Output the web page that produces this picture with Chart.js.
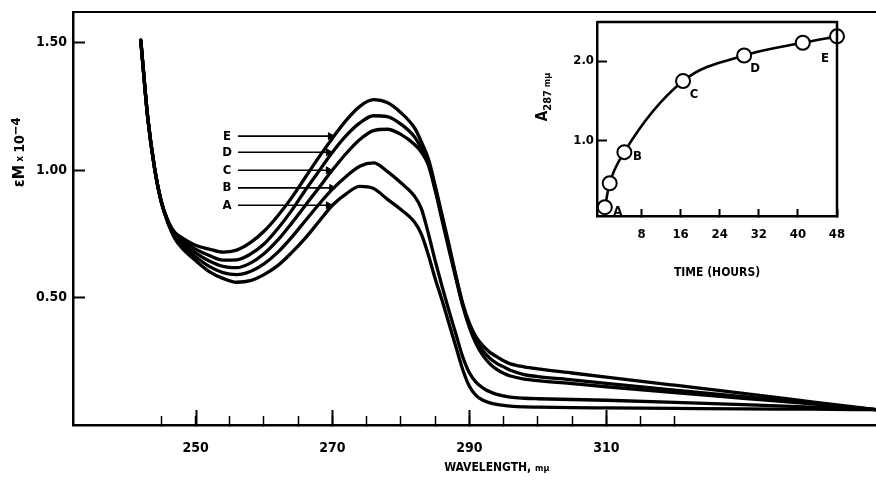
<!DOCTYPE html>
<html>
<head>
<meta charset="utf-8">
<script src="https://cdn.jsdelivr.net/npm/chart.js@4.4.1/dist/chart.umd.min.js"></script>
<style>
  html, body { margin: 0; padding: 0; background: #fff; }
  #wrap { position: relative; width: 876px; height: 480px; }
  #main { position: absolute; left: 0; top: 0; }
  #inset { position: absolute; left: 520px; top: 0; }
</style>
</head>
<body>
<div id="wrap">
  <canvas id="main" width="876" height="480"></canvas>
  <canvas id="inset" width="356" height="280"></canvas>
</div>
<script>
// spectra (wavelength in m\u03bc, eM x 10^-4)
const wavelengths = [242, 243, 244, 245, 246, 247, 248, 250, 252, 254, 256, 258, 260, 262, 264, 266, 268, 270, 272, 274, 276, 278, 280, 282, 283, 284, 285, 286, 287, 288, 289, 290, 291, 292, 293, 294, 295, 296, 298, 300, 305, 310, 320, 330, 340, 349.4];
const curveA = [1.51, 1.21, 1.01, 0.875, 0.79, 0.73, 0.695, 0.645, 0.602, 0.575, 0.56, 0.566, 0.59, 0.625, 0.675, 0.732, 0.797, 0.862, 0.907, 0.936, 0.928, 0.886, 0.845, 0.795, 0.748, 0.668, 0.575, 0.49, 0.40, 0.31, 0.22, 0.152, 0.115, 0.097, 0.087, 0.081, 0.077, 0.074, 0.071, 0.07, 0.068, 0.067, 0.065, 0.063, 0.062, 0.06];
const curveB = [1.51, 1.21, 1.01, 0.875, 0.792, 0.736, 0.705, 0.66, 0.622, 0.598, 0.59, 0.602, 0.632, 0.677, 0.735, 0.8, 0.865, 0.925, 0.975, 1.015, 1.028, 0.995, 0.95, 0.897, 0.848, 0.752, 0.645, 0.545, 0.45, 0.36, 0.27, 0.205, 0.167, 0.145, 0.13, 0.12, 0.114, 0.109, 0.105, 0.103, 0.1, 0.097, 0.089, 0.08, 0.07, 0.06];
const curveC = [1.51, 1.21, 1.01, 0.875, 0.795, 0.742, 0.715, 0.675, 0.643, 0.622, 0.617, 0.635, 0.672, 0.725, 0.79, 0.86, 0.93, 1.0, 1.065, 1.12, 1.155, 1.16, 1.14, 1.1, 1.07, 1.02, 0.92, 0.805, 0.69, 0.578, 0.47, 0.383, 0.318, 0.272, 0.24, 0.218, 0.203, 0.192, 0.18, 0.174, 0.162, 0.15, 0.127, 0.105, 0.083, 0.06];
const curveD = [1.51, 1.21, 1.01, 0.875, 0.798, 0.748, 0.725, 0.69, 0.665, 0.647, 0.648, 0.67, 0.71, 0.77, 0.84, 0.92, 0.995, 1.07, 1.135, 1.185, 1.213, 1.21, 1.18, 1.13, 1.085, 1.03, 0.93, 0.815, 0.70, 0.585, 0.475, 0.39, 0.33, 0.29, 0.262, 0.242, 0.228, 0.215, 0.198, 0.19, 0.177, 0.163, 0.137, 0.111, 0.085, 0.06];
const curveE = [1.51, 1.21, 1.01, 0.875, 0.80, 0.755, 0.735, 0.705, 0.69, 0.678, 0.686, 0.715, 0.76, 0.82, 0.89, 0.97, 1.05, 1.125, 1.195, 1.25, 1.276, 1.265, 1.225, 1.165, 1.11, 1.045, 0.94, 0.825, 0.71, 0.59, 0.48, 0.40, 0.345, 0.31, 0.285, 0.268, 0.252, 0.24, 0.228, 0.22, 0.204, 0.188, 0.156, 0.124, 0.091, 0.06];

// curve labels with their arrows
const curveLetters = ['A', 'B', 'C', 'D', 'E'];
const arrowLevels = [0.862, 0.93, 0.999, 1.07, 1.133];
const arrowStart = 256.2;
const arrowEnds = [269.4, 269.9, 269.4, 269.4, 269.7];
const letterX = 254.6;

const xTickValues = [245, 250, 255, 260, 265, 270, 275, 280, 285, 290, 295, 300, 305, 310, 315, 320];
const xLabelValues = [250, 270, 290, 310];
const yTickValues = [0.5, 1.0, 1.5];

// inset: absorbance at 287 m\u03bc vs time
const hours = [0.5, 1.5, 4.5, 16.5, 29, 41, 48];
const a287 = [0.17, 0.47, 0.86, 1.75, 2.07, 2.23, 2.31];
const hourLabels = ['A', '', 'B', 'C', 'D', '', 'E'];
const insetXTicks = [8, 16, 24, 32, 40, 48];
const insetYTicks = [1.0, 2.0];

const FONT = "'Liberation Sans Narrow', 'DejaVu Sans Condensed', 'Liberation Sans', sans-serif";
const font = (size) => ({ family: FONT, size, weight: 'bold' });

const toPoints = (xs, ys) => xs.map((x, i) => ({ x, y: ys[i] }));

// stop chart.js from reserving room for half-labels at the axis ends
const noEdgePadding = s => {
  s.paddingTop = 0;
  s.paddingBottom = 0;
  s.paddingLeft = 0;
  s.paddingRight = 0;
};

const curveSets = [curveA, curveB, curveC, curveD, curveE].map(vals => ({
  data: toPoints(wavelengths, vals),
  borderColor: '#000',
  borderWidth: 3.3,
  pointRadius: 0,
  fill: false,
  cubicInterpolationMode: 'monotone',
  borderCapStyle: 'round',
  borderJoinStyle: 'round',
}));

const arrowSets = curveLetters.map((l, i) => ({
  data: [{ x: arrowStart, y: arrowLevels[i] }, { x: arrowEnds[i], y: arrowLevels[i] }],
  borderColor: '#000',
  borderWidth: 1.6,
  tension: 0,
  pointRadius: [0, 4],
  pointStyle: 'triangle',
  rotation: 90,
  pointBackgroundColor: '#000',
  pointBorderColor: '#000',
  pointBorderWidth: 1,
}));

const mainDecor = {
  id: 'mainDecor',
  afterDraw(chart) {
    const { ctx, chartArea, scales: { x, y } } = chart;
    ctx.save();
    ctx.strokeStyle = '#000';
    ctx.fillStyle = '#000';

    ctx.lineWidth = 2;
    ctx.beginPath();
    ctx.moveTo(chartArea.left, chartArea.top);
    ctx.lineTo(chartArea.right, chartArea.top);
    ctx.stroke();

    // labelled ticks are longer
    xLabelValues.forEach(v => {
      const px = Math.round(x.getPixelForValue(v)) + 0.5;
      ctx.beginPath();
      ctx.moveTo(px, chartArea.bottom);
      ctx.lineTo(px, chartArea.bottom - 15);
      ctx.stroke();
    });

    ctx.font = `bold 13px ${FONT}`;
    ctx.textAlign = 'center';
    ctx.textBaseline = 'middle';
    curveLetters.forEach((l, i) => {
      ctx.fillText(l, x.getPixelForValue(letterX), y.getPixelForValue(arrowLevels[i]));
    });

    // x title
    const tx = x.getPixelForValue(294);
    const ty = chartArea.bottom + 43;
    ctx.font = `bold 12px ${FONT}`;
    const w1 = ctx.measureText('WAVELENGTH, ').width;
    ctx.font = `bold 9px ${FONT}`;
    const w2 = ctx.measureText('m\u03bc').width;
    ctx.textAlign = 'left';
    ctx.font = `bold 12px ${FONT}`;
    ctx.fillText('WAVELENGTH, ', tx - (w1 + w2) / 2, ty);
    ctx.font = `bold 9px ${FONT}`;
    ctx.fillText('m\u03bc', tx - (w1 + w2) / 2 + w1, ty + 1);

    // y title, rotated
    const parts = [
      { t: '\u03b5M', size: 16, dy: 0 },
      { t: ' x ', size: 10, dy: 0 },
      { t: '10', size: 14, dy: 0 },
      { t: '\u22124', size: 13, dy: -3 },
    ];
    ctx.translate(20, y.getPixelForValue(1.07));
    ctx.rotate(-Math.PI / 2);
    let total = 0;
    parts.forEach(p => { ctx.font = `bold ${p.size}px ${FONT}`; p.w = ctx.measureText(p.t).width; total += p.w; });
    let cx = -total / 2;
    parts.forEach(p => {
      ctx.font = `bold ${p.size}px ${FONT}`;
      ctx.fillText(p.t, cx, p.dy);
      cx += p.w;
    });
    ctx.restore();
  },
};

new Chart(document.getElementById('main'), {
  type: 'line',
  data: { datasets: [...curveSets, ...arrowSets] },
  options: {
    responsive: false,
    animation: false,
    layout: { autoPadding: false, padding: { top: 12, right: 0, left: 0, bottom: 0 } },
    plugins: { legend: { display: false }, tooltip: { enabled: false } },
    scales: {
      x: {
        type: 'linear',
        min: 232.1,
        max: 349.4,
        afterBuildTicks: s => { s.ticks = xTickValues.map(value => ({ value })); },
        afterFit: s => { s.height = 55; noEdgePadding(s); },
        grid: { drawOnChartArea: false, drawTicks: true, tickLength: -9, tickWidth: 1.5, tickColor: '#000' },
        border: { color: '#000', width: 2.5 },
        ticks: {
          color: '#000', font: font(14), padding: 24, autoSkip: false, maxRotation: 0,
          callback: v => xLabelValues.includes(v) ? String(v) : '',
        },
      },
      y: {
        min: 0,
        max: 1.62,
        afterBuildTicks: s => { s.ticks = yTickValues.map(value => ({ value })); },
        afterFit: s => { s.width = 73; noEdgePadding(s); },
        grid: { drawOnChartArea: false, drawTicks: true, tickLength: -12, tickWidth: 2, tickColor: '#000' },
        border: { color: '#000', width: 2.5 },
        ticks: { color: '#000', font: font(14), padding: 18, callback: v => v.toFixed(2) },
      },
    },
  },
  plugins: [mainDecor],
});

const labelOffsets = [[13, 4], [0, 0], [13, 4], [11, 14], [11, 13], [0, 0], [-12, 22]];

const insetDecor = {
  id: 'insetDecor',
  afterDatasetsDraw(chart) {
    const { ctx, chartArea, scales: { x, y } } = chart;
    ctx.save();
    ctx.strokeStyle = '#000';
    ctx.fillStyle = '#000';
    ctx.lineWidth = 2.5;
    ctx.beginPath();
    ctx.moveTo(chartArea.left, chartArea.top);
    ctx.lineTo(chartArea.right, chartArea.top);
    ctx.lineTo(chartArea.right, chartArea.bottom);
    ctx.stroke();

    ctx.font = `bold 13px ${FONT}`;
    ctx.textAlign = 'center';
    ctx.textBaseline = 'middle';
    hourLabels.forEach((l, i) => {
      if (!l) return;
      ctx.fillText(l, x.getPixelForValue(hours[i]) + labelOffsets[i][0], y.getPixelForValue(a287[i]) + labelOffsets[i][1]);
    });

    // y title: A sub 287 m\u03bc
    ctx.translate(23, 97);
    ctx.rotate(-Math.PI / 2);
    const parts = [
      { t: 'A', size: 15, dy: 0 },
      { t: '287', size: 11, dy: 5 },
      { t: ' m\u03bc', size: 9, dy: 5 },
    ];
    let total = 0;
    parts.forEach(p => { ctx.font = `bold ${p.size}px ${FONT}`; p.w = ctx.measureText(p.t).width; total += p.w; });
    let cx = -total / 2;
    ctx.textAlign = 'left';
    parts.forEach(p => {
      ctx.font = `bold ${p.size}px ${FONT}`;
      ctx.fillText(p.t, cx, p.dy);
      cx += p.w;
    });
    ctx.restore();
  },
};

new Chart(document.getElementById('inset'), {
  type: 'line',
  data: {
    datasets: [{
      data: toPoints(hours, a287),
      borderColor: '#000',
      borderWidth: 2.6,
      cubicInterpolationMode: 'monotone',
      pointRadius: 7,
      pointBackgroundColor: '#fff',
      pointBorderColor: '#000',
      pointBorderWidth: 2,
      clip: false,
    }],
  },
  options: {
    responsive: false,
    animation: false,
    layout: { autoPadding: false, padding: { top: 22, right: 39, left: 0, bottom: 0 } },
    plugins: { legend: { display: false }, tooltip: { enabled: false } },
    scales: {
      x: {
        type: 'linear',
        min: -1.1,
        max: 48,
        afterBuildTicks: s => { s.ticks = insetXTicks.map(value => ({ value })); },
        afterFit: s => { s.height = 64; noEdgePadding(s); },
        grid: { drawOnChartArea: false, drawTicks: true, tickLength: -7, tickWidth: 2, tickColor: '#000' },
        border: { color: '#000', width: 2.5 },
        ticks: { color: '#000', font: font(13), padding: 18, autoSkip: false, maxRotation: 0 },
        title: { display: true, text: 'TIME (HOURS)', color: '#000', font: font(12), padding: { top: 4, bottom: 0 } },
      },
      y: {
        min: 0.06,
        max: 2.49,
        afterBuildTicks: s => { s.ticks = insetYTicks.map(value => ({ value })); },
        afterFit: s => { s.width = 77; noEdgePadding(s); },
        grid: { drawOnChartArea: false, drawTicks: true, tickLength: -10, tickWidth: 2, tickColor: '#000' },
        border: { color: '#000', width: 2.5 },
        ticks: { color: '#000', font: font(13), padding: 13, callback: v => v.toFixed(1) },
      },
    },
  },
  plugins: [insetDecor],
});
</script>
</body>
</html>
